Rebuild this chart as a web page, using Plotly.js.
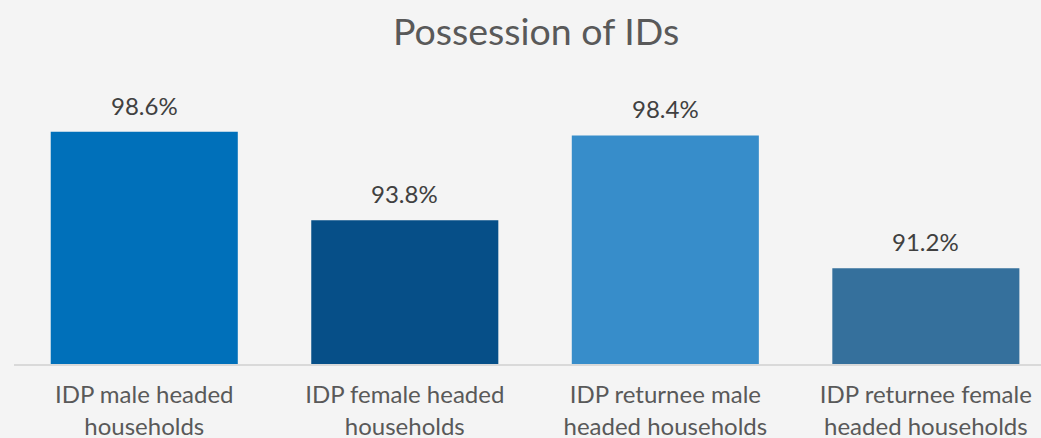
<!DOCTYPE html>
<html>
<head>
<meta charset="utf-8">
<script src="https://cdn.plot.ly/plotly-3.0.1.min.js"></script>
<style>html,body{margin:0;padding:0;background:#f4f4f4;}#chart{width:1041px;height:438px;}</style>
</head>
<body>
<div id="chart"></div>
<script>
var categories = ["IDP male headed<br>households", "IDP female headed<br>households", "IDP returnee male<br>headed households", "IDP returnee female<br>headed households"];
var values = [98.6, 93.8, 98.4, 91.2];
var valueLabels = ["98.6%", "93.8%", "98.4%", "91.2%"];
var barColors = ["#0070ba", "#064f88", "#378dca", "#35709c"];

var xIdx = categories.map(function(_, i){ return i; });

var trace = {
  type: "bar",
  x: xIdx,
  y: values,
  marker: {color: barColors},
  hoverinfo: "none"
};

var annotations = xIdx.map(function(i){
  return {
    x: i, y: values[i], xref: "x", yref: "y",
    text: valueLabels[i], showarrow: false,
    yanchor: "bottom", yshift: 10,
    font: {family: "Lato, 'Open Sans', sans-serif", size: 24, color: "#404040"}
  };
});

var layout = {
  width: 1041, height: 438,
  paper_bgcolor: "#f4f4f4", plot_bgcolor: "#f4f4f4",
  margin: {l: 14, r: 0, t: 106, b: 74, pad: 0},
  title: {
    text: "Possession of IDs",
    font: {family: "Lato, 'Open Sans', sans-serif", size: 37.5, color: "#595959"},
    xref: "container", x: 0.515, xanchor: "center",
    yref: "container", y: 0.928, yanchor: "middle"
  },
  bargap: 0.282,
  showlegend: false,
  xaxis: {
    range: [-0.5, 3.442],
    tickmode: "array", tickvals: xIdx, ticktext: categories,
    showline: true, linecolor: "#d9d9d9", linewidth: 1.5,
    showgrid: false, zeroline: false, ticks: "",
    ticklabelstandoff: 9,
    tickfont: {family: "Lato, 'Open Sans', sans-serif", size: 24, color: "#595959"},
    fixedrange: true
  },
  yaxis: {
    range: [86, 100], visible: false, showgrid: false, zeroline: false, fixedrange: true
  },
  annotations: annotations
};

Plotly.newPlot("chart", [trace], layout, {displayModeBar: false, staticPlot: true});
</script>
</body>
</html>
